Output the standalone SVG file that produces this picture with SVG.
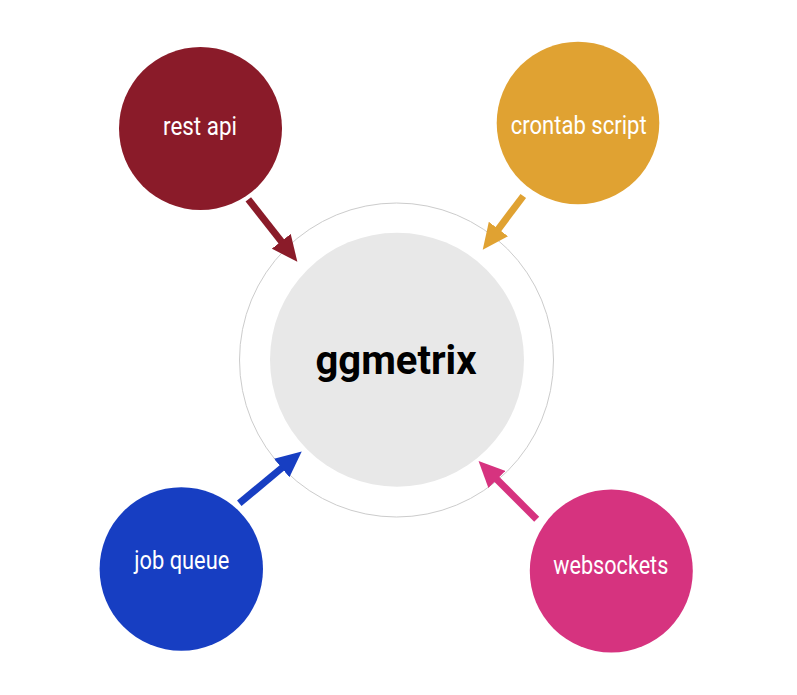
<svg xmlns="http://www.w3.org/2000/svg" width="797" height="695" viewBox="0 0 797 695">
<style>
.lbl{font-family:Roboto,"Liberation Sans",sans-serif;font-size:25px;fill:#ffffff;text-anchor:middle}
.conn{stroke-width:7;fill:none}
</style>
<defs>
<marker id="hRed" markerUnits="userSpaceOnUse" markerWidth="26" markerHeight="24" refX="1" refY="12" orient="auto"><path d="M0,0 L26,12 L0,24 z" fill="#8a1b29"/></marker>
<marker id="hOrange" markerUnits="userSpaceOnUse" markerWidth="26" markerHeight="24" refX="1" refY="12" orient="auto"><path d="M0,0 L26,12 L0,24 z" fill="#e0a232"/></marker>
<marker id="hBlue" markerUnits="userSpaceOnUse" markerWidth="26" markerHeight="24" refX="1" refY="12" orient="auto"><path d="M0,0 L26,12 L0,24 z" fill="#173ec2"/></marker>
<marker id="hPink" markerUnits="userSpaceOnUse" markerWidth="26" markerHeight="24" refX="1" refY="12" orient="auto"><path d="M0,0 L26,12 L0,24 z" fill="#d6337f"/></marker>
</defs>
<rect width="797" height="695" fill="#ffffff"/>
<g id="center">
<circle cx="396.5" cy="360" r="157" fill="none" stroke="#cccccc" stroke-width="1"/>
<circle cx="397" cy="359.7" r="127" fill="#e8e8e8"/>
<text x="396" y="374" font-family="Roboto,'Liberation Sans',sans-serif" font-size="40" font-weight="bold" text-anchor="middle" fill="#000000">ggmetrix</text>
</g>
<g id="rest-api">
<circle cx="200.5" cy="128.5" r="81.5" fill="#8a1b29"/>
<text class="lbl" x="200" y="135" textLength="74" lengthAdjust="spacingAndGlyphs">rest api</text>
</g>
<g id="crontab-script">
<circle cx="578" cy="123" r="81.3" fill="#e0a232"/>
<text class="lbl" x="578.7" y="134.3" textLength="136" lengthAdjust="spacingAndGlyphs">crontab script</text>
</g>
<g id="job-queue">
<circle cx="181.3" cy="569" r="81.7" fill="#173ec2"/>
<text class="lbl" x="181.8" y="569.3" textLength="95" lengthAdjust="spacingAndGlyphs">job queue</text>
</g>
<g id="websockets">
<circle cx="611.3" cy="571" r="81.5" fill="#d6337f"/>
<text class="lbl" x="610.8" y="574.3" textLength="115" lengthAdjust="spacingAndGlyphs">websockets</text>
</g>
<g id="connectors">
<line class="conn" x1="248.3" y1="199.3" x2="281.9" y2="242.1" stroke="#8a1b29" marker-end="url(#hRed)"/>
<line class="conn" x1="523.3" y1="196" x2="497.8" y2="229.8" stroke="#e0a232" marker-end="url(#hOrange)"/>
<line class="conn" x1="239.3" y1="503.3" x2="282.5" y2="467.4" stroke="#173ec2" marker-end="url(#hBlue)"/>
<line class="conn" x1="536.7" y1="519.3" x2="496.2" y2="478.7" stroke="#d6337f" marker-end="url(#hPink)"/>
</g>
</svg>
